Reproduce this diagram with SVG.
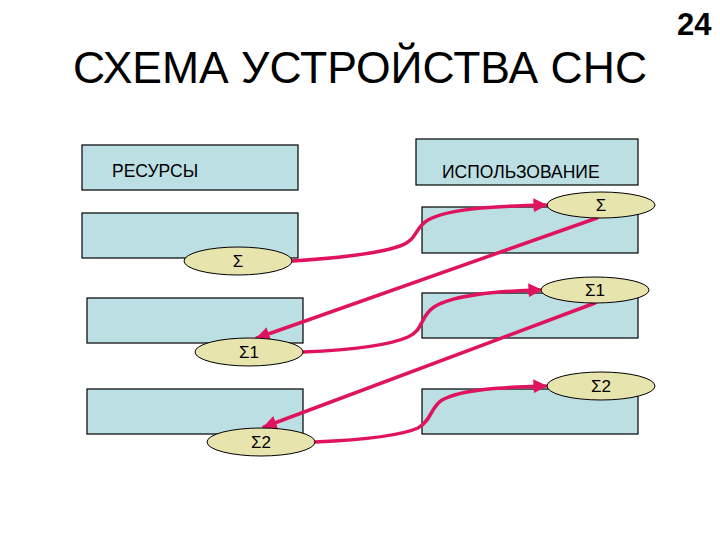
<svg xmlns="http://www.w3.org/2000/svg" width="720" height="540" viewBox="0 0 720 540">
<style>
.box{fill:#BCDFE3;stroke:#000;stroke-width:1.2}
.ell{fill:#E8E4AE;stroke:#000;stroke-width:1}
.lbl{font-family:"Liberation Sans",Arial,sans-serif;font-size:17.5px;fill:#000}
.sig{font-family:"Liberation Sans",Arial,sans-serif;font-size:17px;fill:#000;text-anchor:middle}
.con{fill:none;stroke:#E0145E;stroke-width:3.5;stroke-linecap:round}
</style>
<defs>
<marker id="arr" viewBox="0 0 10 10" refX="9" refY="5" markerWidth="4" markerHeight="4" orient="auto" markerUnits="strokeWidth">
<path d="M0,0 L10,5 L0,10 z" fill="#E0145E"/>
</marker>
</defs>
<rect width="720" height="540" fill="#fff"/>
<text x="73" y="83" font-family="'Liberation Sans',Arial,sans-serif" font-size="44.5" fill="#000">СХЕМА УСТРОЙСТВА СНС</text>
<text x="677" y="35" font-family="'Liberation Sans',Arial,sans-serif" font-size="31" font-weight="bold" fill="#000">24</text>

<g id="res-header"><rect class="box" x="82" y="145" width="216" height="45"/><text class="lbl" x="112" y="177">РЕСУРСЫ</text></g>
<g id="res1"><rect class="box" x="82" y="213" width="216" height="45"/></g>
<g id="res2"><rect class="box" x="87" y="298" width="216" height="45"/></g>
<g id="res3"><rect class="box" x="87" y="389" width="216" height="45"/></g>

<g id="use-header"><rect class="box" x="416" y="139" width="222" height="46"/><text class="lbl" x="442" y="178">ИСПОЛЬЗОВАНИЕ</text></g>
<g id="use1"><rect class="box" x="422" y="207" width="216" height="46"/></g>
<g id="use2"><rect class="box" x="422" y="293" width="216" height="45"/></g>
<g id="use3"><rect class="box" x="422" y="389" width="216" height="45"/></g>

<g id="connectors">
<path class="con" marker-end="url(#arr)" d="M292,261 C340,258 380,253 400,246 C418,240 414,228 428,220 C450,208 500,206 546,205"/>
<path class="con" marker-end="url(#arr)" d="M597,218 L257,338"/>
<path class="con" marker-end="url(#arr)" d="M303,352 C350,350 390,345 408,337 C424,330 420,316 434,307 C455,294 500,291 541,290"/>
<path class="con" marker-end="url(#arr)" d="M595,303 L264,427"/>
<path class="con" marker-end="url(#arr)" d="M315,442 C360,440 400,436 418,428 C432,420 430,408 442,400 C462,389 505,387 546,386"/>
</g>

<g id="sig-l0"><ellipse class="ell" cx="238" cy="261" rx="54" ry="14"/><text class="sig" x="238" y="267">Σ</text></g>
<g id="sig-r0"><ellipse class="ell" cx="601" cy="205" rx="54" ry="13"/><text class="sig" x="601" y="211">Σ</text></g>
<g id="sig-l1"><ellipse class="ell" cx="249" cy="352" rx="54" ry="14"/><text class="sig" x="249" y="358">Σ1</text></g>
<g id="sig-r1"><ellipse class="ell" cx="595" cy="290" rx="54" ry="13"/><text class="sig" x="595" y="296">Σ1</text></g>
<g id="sig-r2"><ellipse class="ell" cx="601" cy="386" rx="54" ry="14"/><text class="sig" x="601" y="392">Σ2</text></g>
<g id="sig-l2"><ellipse class="ell" cx="261" cy="442" rx="54" ry="14"/><text class="sig" x="261" y="448">Σ2</text></g>
</svg>
